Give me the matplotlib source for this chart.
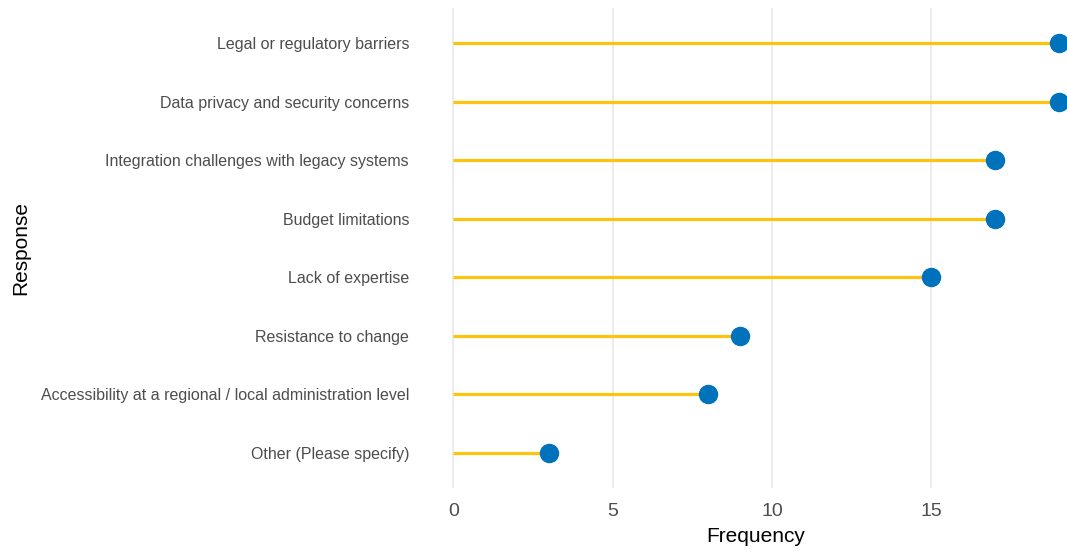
import matplotlib
matplotlib.use("Agg")
import matplotlib.pyplot as plt

categories = [
    "Legal or regulatory barriers",
    "Data privacy and security concerns",
    "Integration challenges with legacy systems",
    "Budget limitations",
    "Lack of expertise",
    "Resistance to change",
    "Accessibility at a regional / local administration level",
    "Other (Please specify)",
]
values = [19, 19, 17, 17, 15, 9, 8, 3]
xticks = [0, 5, 10, 15]

plt.rcParams['font.family'] = ['Liberation Sans', 'DejaVu Sans']

W, H = 1067, 554
fig = plt.figure(figsize=(W / 100, H / 100), dpi=100)
left, right, top, bottom = 423, 1089, 8, 488
ax = fig.add_axes([left / W, 1 - bottom / H, (right - left) / W, (bottom - top) / H])

n = len(categories)
ypos = list(range(n - 1, -1, -1))

ax.set_xlim(-0.95, 19.95)
ax.set_ylim(-0.6, n - 1 + 0.6)

for x in xticks:
    ax.axvline(x, color='#EBEBEB', lw=1.3, zorder=0)

ax.hlines(ypos, 0, values, color='#FFC20E', lw=2.3, zorder=2)
ax.plot(values, ypos, 'o', color='#0072BC', markersize=13, zorder=3, clip_on=False)

ax.set_xticks(xticks)
ax.set_xticklabels([str(x) for x in xticks])
ax.set_yticks(ypos)
ax.set_yticklabels(categories)
ax.tick_params(axis='x', length=0, labelsize=14, labelcolor='#4D4D4D', pad=11)
ax.tick_params(axis='y', length=0, labelsize=11.55, labelcolor='#4D4D4D', pad=10)
for s in ax.spines.values():
    s.set_visible(False)

ax.set_xlabel("Frequency", fontsize=15, color='black', labelpad=5)
ax.set_ylabel("Response", fontsize=15, color='black', labelpad=7.5)

fig.savefig("out.png", dpi=100)
